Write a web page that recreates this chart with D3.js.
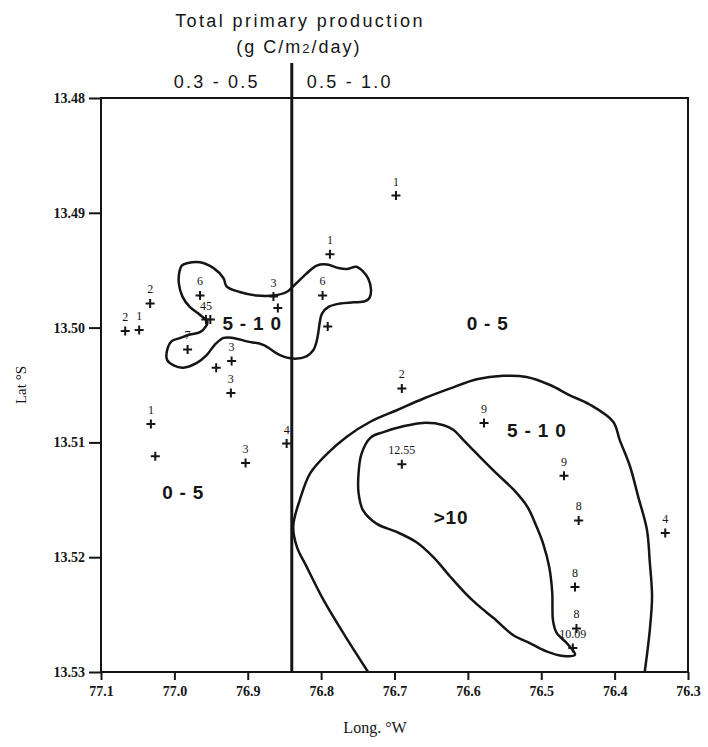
<!DOCTYPE html>
<html>
<head>
<meta charset="utf-8">
<script src="https://cdn.jsdelivr.net/npm/d3@7"></script>
<style>
  body { margin: 0; background: #fff; }
  svg { display: block; }
  text { -webkit-font-smoothing: antialiased; }
</style>
</head>
<body>
<div id="chart"></div>
<script>
// Axis ticks
const lonTicks = [77.1, 77.0, 76.9, 76.8, 76.7, 76.6, 76.5, 76.4, 76.3];
const latTicks = [13.48, 13.49, 13.50, 13.51, 13.52, 13.53];

// Production zones above the map
const zoneBoundaryLon = 76.84;
const zoneLabels = ['0.3 - 0.5', '0.5 - 1.0'];

// Stations: [lon, lat, label]
const stations = [
    [76.698, 13.4885, '1'],
    [76.788, 13.4936, '1'],
    [76.798, 13.4972, '6'],
    [76.791, 13.4999, ''],
    [76.865, 13.4973, '3'],
    [76.859, 13.4983, ''],
    [76.965, 13.4972, '6'],
    [76.957, 13.4993, '45'],
    [76.951, 13.4993, ''],
    [77.033, 13.4979, '2'],
    [77.067, 13.5003, '2'],
    [77.048, 13.5002, '1'],
    [76.982, 13.5019, '7'],
    [76.922, 13.5029, '3'],
    [76.943, 13.5035, ''],
    [76.923, 13.5057, '3'],
    [76.847, 13.5101, '4'],
    [76.903, 13.5118, '3'],
    [77.032, 13.5084, '1'],
    [77.026, 13.5112, ''],
    [76.690, 13.5053, '2'],
    [76.578, 13.5083, '9'],
    [76.690, 13.5119, '12.55'],
    [76.469, 13.5129, '9'],
    [76.449, 13.5168, '8'],
    [76.454, 13.5226, '8'],
    [76.452, 13.5262, '8'],
    [76.457, 13.5279, '10.09'],
    [76.331, 13.5179, '4']
];

// Contour 5-10 (closed blob, north-west)
const blobContour = [
    [76.990, 13.4946], [76.983, 13.4944], [76.965, 13.4943], [76.947, 13.4948],
    [76.933, 13.4957], [76.929, 13.4964], [76.911, 13.4969], [76.888, 13.4972],
    [76.865, 13.4972], [76.847, 13.4969], [76.838, 13.4964], [76.820, 13.4953],
    [76.806, 13.4946], [76.792, 13.4945], [76.777, 13.4948], [76.765, 13.4949],
    [76.752, 13.4947], [76.743, 13.4951], [76.736, 13.4957], [76.732, 13.4967],
    [76.734, 13.4974], [76.740, 13.4977], [76.756, 13.4978], [76.774, 13.4979],
    [76.790, 13.4982], [76.799, 13.4988], [76.802, 13.4996], [76.804, 13.5005],
    [76.807, 13.5014], [76.811, 13.5020], [76.820, 13.5025], [76.838, 13.5027],
    [76.856, 13.5024], [76.879, 13.5015], [76.901, 13.5012], [76.920, 13.5009],
    [76.933, 13.5009], [76.945, 13.5015], [76.956, 13.5024], [76.970, 13.5031],
    [76.988, 13.5035], [77.001, 13.5033], [77.010, 13.5028], [77.010, 13.5020],
    [77.004, 13.5012], [76.992, 13.5009], [76.979, 13.5006], [76.965, 13.5004],
    [76.957, 13.4999], [76.955, 13.4995], [76.965, 13.4989], [76.979, 13.4982],
    [76.989, 13.4973], [76.994, 13.4961], [76.993, 13.4951]
];

// Contour 5-10 (open, south-east)
const outerContour = [
    [76.736, 13.5300], [76.767, 13.5269], [76.797, 13.5237], [76.820, 13.5208],
    [76.833, 13.5191], [76.838, 13.5173], [76.829, 13.5150], [76.815, 13.5127],
    [76.792, 13.5110], [76.765, 13.5095], [76.733, 13.5082], [76.697, 13.5072],
    [76.661, 13.5062], [76.624, 13.5053], [76.588, 13.5045], [76.552, 13.5042],
    [76.520, 13.5043], [76.488, 13.5050], [76.461, 13.5059], [76.434, 13.5067],
    [76.402, 13.5082], [76.393, 13.5098], [76.379, 13.5121], [76.368, 13.5147],
    [76.356, 13.5176], [76.352, 13.5205], [76.349, 13.5234], [76.352, 13.5263],
    [76.359, 13.5300]
];

// Contour >10
const innerContour = [
    [76.661, 13.5083], [76.633, 13.5085], [76.620, 13.5089], [76.606, 13.5098],
    [76.583, 13.5113], [76.561, 13.5127], [76.538, 13.5141], [76.519, 13.5156],
    [76.506, 13.5174], [76.497, 13.5189], [76.489, 13.5209], [76.485, 13.5231],
    [76.484, 13.5255], [76.479, 13.5266], [76.465, 13.5275], [76.454, 13.5285],
    [76.470, 13.5286], [76.493, 13.5282], [76.515, 13.5275], [76.538, 13.5268],
    [76.565, 13.5253], [76.586, 13.5242], [76.604, 13.5231], [76.624, 13.5217],
    [76.647, 13.5200], [76.670, 13.5187], [76.697, 13.5178], [76.724, 13.5171],
    [76.743, 13.5159], [76.749, 13.5144], [76.749, 13.5127], [76.745, 13.5110],
    [76.733, 13.5096], [76.715, 13.5091], [76.688, 13.5086]
];

// Zone labels inside the map: [lon, lat, text]
const contourLabels = [
    [76.894, 13.4996, '5 - 1 0'],
    [76.573, 13.4996, '0 - 5'],
    [76.988, 13.5143, '0 - 5'],
    [76.506, 13.5089, '5 - 1 0'],
    [76.623, 13.5165, '>10']
];

const width = 708;
const height = 747;
const ink = '#151515';

const svg = d3.select('#chart')
    .append('svg')
    .attr('width', width)
    .attr('height', height);

const x = d3.scaleLinear().domain([77.1, 76.3]).range([101, 688]);
const y = d3.scaleLinear().domain([13.48, 13.53]).range([98, 672]);

// Title
svg.append('text')
    .attr('x', 300).attr('y', 27)
    .attr('text-anchor', 'middle')
    .style('font-family', '"Liberation Sans", Arial, sans-serif')
    .style('font-size', '18px')
    .style('letter-spacing', '2.4px')
    .style('fill', ink)
    .text('Total primary production');

const sub = svg.append('text')
    .attr('x', 299).attr('y', 53)
    .attr('text-anchor', 'middle')
    .style('font-family', '"Liberation Sans", Arial, sans-serif')
    .style('font-size', '18px')
    .style('letter-spacing', '2px')
    .style('fill', ink);
sub.append('tspan').text('(g C/m');
sub.append('tspan').style('font-size', '13px').text('2');
sub.append('tspan').text('/day)');

// Zone divider and labels
const divX = x(zoneBoundaryLon);
svg.append('line')
    .attr('x1', divX).attr('x2', divX)
    .attr('y1', y.range()[0] - 35).attr('y2', y.range()[1])
    .attr('stroke', ink)
    .attr('stroke-width', 3);

svg.selectAll('.zone')
    .data(zoneLabels)
    .join('text')
    .attr('class', 'zone')
    .attr('x', (d, i) => i === 0 ? divX - 75 : divX + 58)
    .attr('y', 88)
    .attr('text-anchor', 'middle')
    .style('font-family', '"Liberation Sans", Arial, sans-serif')
    .style('font-size', '18px')
    .style('letter-spacing', '2.2px')
    .style('fill', ink)
    .text(d => d);

// Frame
svg.append('rect')
    .attr('x', x.range()[0]).attr('y', y.range()[0])
    .attr('width', x.range()[1] - x.range()[0])
    .attr('height', y.range()[1] - y.range()[0])
    .attr('fill', 'none')
    .attr('stroke', ink)
    .attr('stroke-width', 2);

// Axes
const yAxis = svg.append('g')
    .attr('transform', `translate(${x.range()[0]},0)`)
    .call(d3.axisLeft(y).tickValues(latTicks).tickFormat(d3.format('.2f')).tickSize(12).tickPadding(4));

const xAxis = svg.append('g')
    .attr('transform', `translate(0,${y.range()[1]})`)
    .call(d3.axisBottom(x).tickValues(lonTicks).tickFormat(d3.format('.1f')).tickSize(8).tickPadding(6));

[xAxis, yAxis].forEach(a => {
    a.select('.domain').remove();
    a.selectAll('line').attr('stroke', ink).attr('stroke-width', 2);
    a.selectAll('text')
        .style('font-family', '"Liberation Serif", "Times New Roman", serif')
        .style('font-size', '14px')
        .style('font-weight', 'bold')
        .style('fill', ink);
});

// Axis titles
svg.append('text')
    .attr('transform', `translate(26,${(y.range()[0] + y.range()[1]) / 2}) rotate(-90)`)
    .attr('text-anchor', 'middle')
    .style('font-family', '"Liberation Serif", "Times New Roman", serif')
    .style('font-size', '15px')
    .style('fill', ink)
    .text('Lat °S');

svg.append('text')
    .attr('x', 375).attr('y', 733)
    .attr('text-anchor', 'middle')
    .style('font-family', '"Liberation Serif", "Times New Roman", serif')
    .style('font-size', '16px')
    .style('fill', ink)
    .text('Long. °W');

// Contours
const line = d3.line().x(d => x(d[0])).y(d => y(d[1]));

svg.append('path')
    .attr('d', line.curve(d3.curveCatmullRomClosed)(blobContour))
    .attr('fill', 'none').attr('stroke', ink).attr('stroke-width', 2.5);

svg.append('path')
    .attr('d', line.curve(d3.curveCatmullRom)(outerContour))
    .attr('fill', 'none').attr('stroke', ink).attr('stroke-width', 2.5);

svg.append('path')
    .attr('d', line.curve(d3.curveCatmullRomClosed)(innerContour))
    .attr('fill', 'none').attr('stroke', ink).attr('stroke-width', 2.5);

// Contour labels
svg.selectAll('.clabel')
    .data(contourLabels)
    .join('text')
    .attr('class', 'clabel')
    .attr('x', d => x(d[0]))
    .attr('y', d => y(d[1]))
    .attr('dy', '0.36em')
    .attr('text-anchor', 'middle')
    .style('font-family', '"Liberation Sans", Arial, sans-serif')
    .style('font-size', '19px')
    .style('font-weight', 'bold')
    .style('letter-spacing', '0.8px')
    .style('fill', ink)
    .text(d => d[2]);

// Stations
const st = svg.append('g')
    .selectAll('g')
    .data(stations)
    .join('g')
    .attr('transform', d => `translate(${x(d[0])},${y(d[1])})`);

st.append('path')
    .attr('d', 'M-4.5,0H4.5M0,-4.5V4.5')
    .attr('stroke', ink)
    .attr('stroke-width', 2);

st.append('text')
    .attr('y', -10)
    .attr('text-anchor', 'middle')
    .style('font-family', '"Liberation Serif", "Times New Roman", serif')
    .style('font-size', '12px')
    .style('fill', ink)
    .text(d => d[2]);
</script>
</body>
</html>
